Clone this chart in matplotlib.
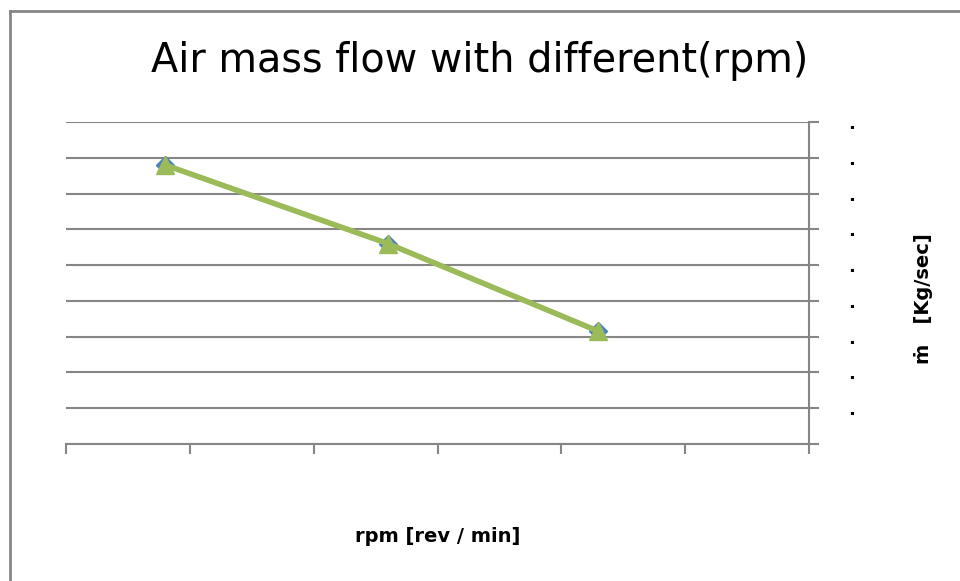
import numpy as np
import matplotlib.pyplot as plt

# data (unlabelled axes, so relative units)
rpm = [0.8, 2.6, 4.3]
flow_a = [7.8, 5.6, 3.15]
flow_b = [7.8, 5.6, 3.15]
y_ticks = np.arange(0, 10)
y_labels = [''] + ['.'] * 9
x_ticks = np.arange(0, 7)

plt.rcParams['font.family'] = ['DejaVu Sans']
grey = '#868686'

fig = plt.figure(figsize=(9.6, 5.81), dpi=100)
ax = fig.add_axes([66 / 960, 137 / 581, 743 / 960, 322 / 581])

ax.plot(rpm, flow_a, c='#4F81BD', lw=3, marker='D', ms=9, zorder=3)
ax.plot(rpm, flow_b, c='#9BBB59', lw=4, marker='^', ms=13, zorder=4)

ax.set_xlim(0, 6)
ax.set_ylim(0, 9)
ax.set_xticks(x_ticks)
ax.set_xticklabels([])
ax.set_yticks(y_ticks)
ax.set_yticklabels(y_labels, fontsize=13, fontweight='bold', va='center_baseline')
ax.yaxis.tick_right()
ax.yaxis.set_label_position('right')
ax.grid(True, axis='y', color=grey, lw=1.5)
ax.set_axisbelow(True)

for s in ['top', 'left']:
    ax.spines[s].set_visible(False)
for s in ['bottom', 'right']:
    ax.spines[s].set_color(grey)
    ax.spines[s].set_linewidth(1.5)
ax.tick_params(axis='x', direction='out', length=7, width=1.5, color=grey)
ax.tick_params(axis='y', direction='out', length=7, width=1.5, color=grey, pad=21)

ax.set_ylabel('ṁ   [Kg/sec]', fontsize=14, fontweight='bold')
ax.yaxis.set_label_coords(1.141, 0.453)
ax.set_xlabel('rpm [rev / min]', fontsize=14, fontweight='bold', labelpad=49)
fig.text(0.5, 1 - 72 / 581, 'Air mass flow with different(rpm)', fontsize=28.6, ha='center', va='baseline')

# chart border (only top and left visible in the frame)
fig.add_artist(plt.Line2D([9.5 / 960, 9.5 / 960], [0, 1 - 10.5 / 581], transform=fig.transFigure, color=grey, lw=2))
fig.add_artist(plt.Line2D([9.5 / 960, 1], [1 - 10.5 / 581, 1 - 10.5 / 581], transform=fig.transFigure, color=grey, lw=2))

plt.savefig('out.png', dpi=100)
